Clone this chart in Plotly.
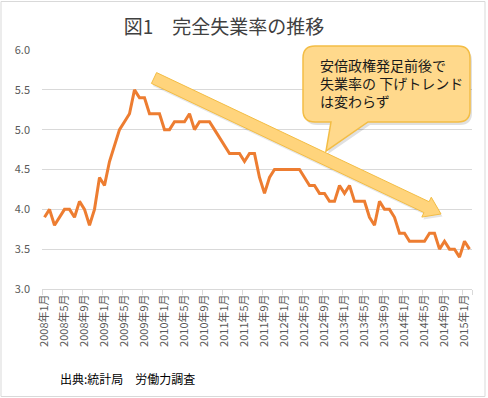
import plotly.graph_objects as go
import math

# ---- data ----
rates = [3.9, 4.0, 3.8, 3.9, 4.0, 4.0, 3.9, 4.1, 4.0, 3.8, 4.0, 4.4,
         4.3, 4.6, 4.8, 5.0, 5.1, 5.2, 5.5, 5.4, 5.4, 5.2, 5.2, 5.2,
         5.0, 5.0, 5.1, 5.1, 5.1, 5.2, 5.0, 5.1, 5.1, 5.1, 5.0, 4.9,
         4.8, 4.7, 4.7, 4.7, 4.6, 4.7, 4.7, 4.4, 4.2, 4.4, 4.5, 4.5,
         4.5, 4.5, 4.5, 4.5, 4.4, 4.3, 4.3, 4.2, 4.2, 4.1, 4.1, 4.3,
         4.2, 4.3, 4.1, 4.1, 4.1, 3.9, 3.8, 4.1, 4.0, 4.0, 3.9, 3.7,
         3.7, 3.6, 3.6, 3.6, 3.6, 3.7, 3.7, 3.5, 3.6, 3.5, 3.5, 3.4,
         3.6, 3.5]

tick_labels = ["2008年1月", "2008年5月", "2008年9月", "2009年1月", "2009年5月",
               "2009年9月", "2010年1月", "2010年5月", "2010年9月", "2011年1月",
               "2011年5月", "2011年9月", "2012年1月", "2012年5月", "2012年9月",
               "2013年1月", "2013年5月", "2013年9月", "2014年1月", "2014年5月",
               "2014年9月", "2015年1月"]

title_text = "図1　完全失業率の推移"
callout_text = "安倍政権発足前後で<br>失業率の 下げトレンド<br>は変わらず"
source_text = "出典:統計局　労働力調査"

# month categories
months = []
yy, mm = 2008, 1
for _ in rates:
    months.append(f"{yy}年{mm}月")
    mm += 1
    if mm > 12:
        mm, yy = 1, yy + 1
xidx = list(range(len(months)))
tickvals = [months.index(t) for t in tick_labels]
boundaries = [i - 0.5 for i in range(0, len(months), 4)] + [len(months) - 0.5]

FONT = "Noto Sans CJK JP"
W, H = 488, 398
L, R, T, B = 42, 472, 50, 289


def px(x):
    return (x - L) / (R - L)


def py(y):
    return (B - y) / (B - T)


def path(points, closed=True):
    s = ""
    for cmd, pts in points:
        s += cmd + " ".join(f"{px(a):.5f},{py(b):.5f}" for a, b in pts) + " "
    return s + ("Z" if closed else "")


fig = go.Figure()
fig.add_trace(go.Scatter(
    x=xidx, y=rates, mode="lines",
    line=dict(color="#ed7d31", width=3),
    text=months, hoverinfo="text+y", showlegend=False))

# callout shape
cl, cr, ct, cb, rr = 303, 470, 46, 122, 12
callout = [("M", [(cl + rr, ct)]), ("L", [(cr - rr, ct)]), ("Q", [(cr, ct), (cr, ct + rr)]),
           ("L", [(cr, cb - rr)]), ("Q", [(cr, cb), (cr - rr, cb)]),
           ("L", [(368, cb)]), ("L", [(326, 151)]), ("L", [(331, cb)]),
           ("L", [(cl + rr, cb)]), ("Q", [(cl, cb), (cl, cb - rr)]),
           ("L", [(cl, ct + rr)]), ("Q", [(cl, ct), (cl + rr, ct)])]
shadow = [(c, [(a + 2, b + 3) for a, b in p]) for c, p in callout]

# arrow polygon
Tx, Ty = 154, 78
Px, Py = 441, 214
dx, dy = Px - Tx, Py - Ty
ln = math.hypot(dx, dy)
ux, uy = dx / ln, dy / ln
nx, ny = -uy, ux
w, hl, hw = 6, 16, 11
Bx, By = Px - ux * hl, Py - uy * hl
arrow_pts = [(Tx - nx * w, Ty - ny * w), (Bx - nx * w, By - ny * w), (Bx - nx * hw, By - ny * hw),
             (Px, Py), (Bx + nx * hw, By + ny * hw), (Bx + nx * w, By + ny * w),
             (Tx + nx * w, Ty + ny * w)]
arrow = [("M", [arrow_pts[0]])] + [("L", [p]) for p in arrow_pts[1:]]
arrow_shadow = [(c, [(a + 1.5, b + 2.5) for a, b in p]) for c, p in arrow]

shapes = [
    dict(type="rect", xref="paper", yref="paper", x0=px(1), x1=px(485), y0=py(396.5), y1=py(1.5),
         line=dict(color="#d9d9d9", width=1), fillcolor="rgba(0,0,0,0)", layer="below"),
    dict(type="path", xref="paper", yref="paper", path=path(arrow_shadow),
         fillcolor="rgba(0,0,0,0.10)", line=dict(width=0)),
    dict(type="path", xref="paper", yref="paper", path=path(arrow),
         fillcolor="#ffd47c", line=dict(color="#f3bd45", width=1)),
    dict(type="path", xref="paper", yref="paper", path=path(shadow),
         fillcolor="rgba(0,0,0,0.12)", line=dict(width=0)),
    dict(type="path", xref="paper", yref="paper", path=path(callout),
         fillcolor="#ffd98c", line=dict(color="#f3bd45", width=1.5)),
]

annotations = [
    dict(xref="paper", yref="paper", x=px(318), y=py(83), xanchor="left", yanchor="middle",
         text=callout_text, showarrow=False, align="left",
         font=dict(family=FONT, size=14, color="#1a1a1a")),
    dict(xref="paper", yref="paper", x=px(58), y=py(378), xanchor="left", yanchor="middle",
         text=source_text, showarrow=False,
         font=dict(family=FONT, size=12, color="#000000")),
]

fig.update_layout(
    width=W, height=H,
    margin=dict(l=L, r=W - R, t=T, b=H - B, pad=0),
    paper_bgcolor="white", plot_bgcolor="white",
    font=dict(family=FONT, color="#595959"),
    title=dict(text=title_text, xref="container", yref="container",
               x=224 / W, y=1 - 27 / H, xanchor="center", yanchor="middle",
               font=dict(family=FONT, size=19, color="#404040")),
    xaxis=dict(range=[-0.5, len(months) - 0.5], tickmode="array", tickvals=tickvals,
               ticktext=tick_labels, tickangle=-90, ticks="", showgrid=False,
               zeroline=False, showline=True, linecolor="#d9d9d9", linewidth=1,
               tickfont=dict(family=FONT, size=11, color="#595959"),
               minor=dict(tickmode="array", tickvals=boundaries, ticks="outside",
                          ticklen=5, tickcolor="#d9d9d9", showgrid=False)),
    yaxis=dict(range=[3, 6], dtick=0.5, tick0=3, tickformat=".1f", showgrid=True,
               gridcolor="#d9d9d9", gridwidth=1, zeroline=False, showline=False,
               ticks="", ticklabelstandoff=11,
               tickfont=dict(family=FONT, size=11, color="#595959")),
    shapes=shapes, annotations=annotations,
)

fig.write_html("out.html", config={"displayModeBar": False},
               post_script="document.body.style.margin='0';document.body.style.overflow='hidden';")
